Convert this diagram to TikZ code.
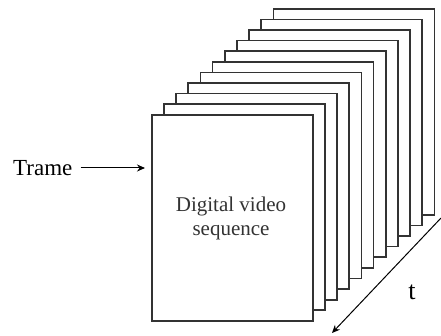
\documentclass[tikz,border=0pt]{standalone}
\usepackage{fontspec}
\setmainfont{Liberation Serif}
\usetikzlibrary{arrows.meta}
\begin{document}
\begin{tikzpicture}[x=1pt,y=-1pt,
  frame/.style={draw=black!80,fill=white,line width=1.7pt,inner sep=0pt,
    minimum width=161pt,minimum height=206pt,anchor=north west},
  conn/.style={line width=1pt,-{Stealth[length=8pt,width=7pt]}}]
\useasboundingbox (0,0) rectangle (441,336);
% stack of frames, drawn from the back to the front
\foreach \i in {10,...,0}{
  \node[frame] (f\i) at ({151+12.15*\i},{114-10.6*\i}) {};
}
\node[font=\fontsize{21}{24}\selectfont,text=black!80,align=center] (label) at (231,218)
  {Digital video\\sequence};
\node[font=\fontsize{23}{26}\selectfont,anchor=west,inner sep=0pt] (trame) at (13,168) {Trame};
\draw[conn,shorten <=8pt,shorten >=6pt] (trame.east) -- (trame -| f0.west);
% time axis
\coordinate (tA) at (441,218);
\coordinate (tB) at (332,333);
\draw[conn] (tA) -- (tB);
\node[font=\fontsize{26}{30}\selectfont] (t) at (412,292) {t};
\end{tikzpicture}
\end{document}
